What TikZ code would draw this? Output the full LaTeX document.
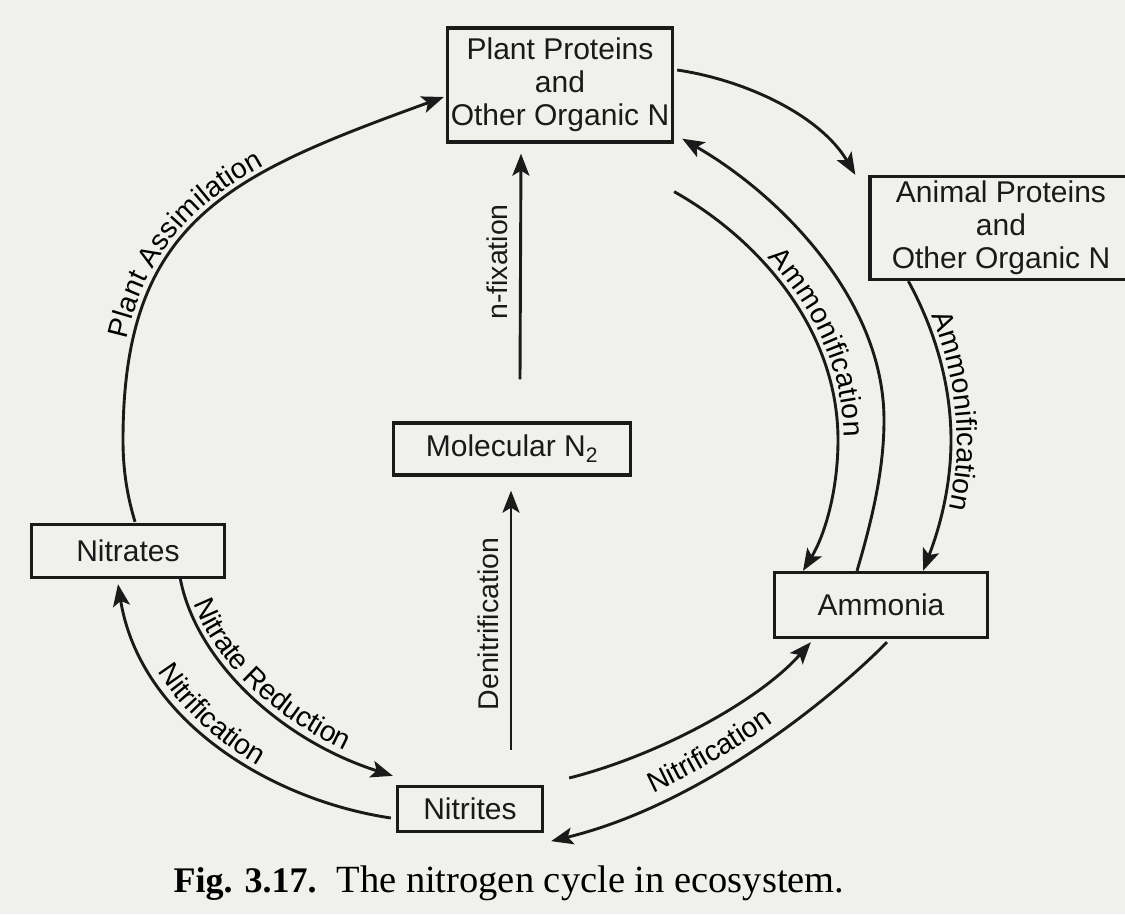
\documentclass[tikz,border=0pt]{standalone}
\usepackage{fontspec}
\setmainfont{Liberation Serif}
\setsansfont{Liberation Sans}
\usetikzlibrary{arrows.meta,decorations.text,calc}
\definecolor{ink}{HTML}{1A1A1A}
\definecolor{paper}{HTML}{F0F0ED}
\begin{document}
\begin{tikzpicture}[x=1pt,y=-1pt,
  box/.style={draw=ink,line width=3.3pt,inner sep=0pt,text=ink,align=center,
    font=\sffamily\fontsize{30}{33}\selectfont},
  flow/.style={draw=ink,line width=2.9pt,
    -{Stealth[length=22pt,width=17pt,inset=5pt]}},
  lbl/.style={font=\sffamily\fontsize{28.5}{30}\selectfont,text=ink},
  along/.style args={#1 at #2 up #3}{decorate,decoration={text along path,
    text={|\sffamily\fontsize{28.5}{30}\selectfont|#1},
    text align={left indent=#2pt},raise=#3pt}}
]
% paper
\fill[paper] (0,0) rectangle (1125,914);
\useasboundingbox (0,0) rectangle (1125,914);

% pools of nitrogen
\node[box,minimum width=225pt,minimum height=114pt] (plant) at (560,85)
  {Plant Proteins\\and\\Other Organic N};
\node[box,minimum width=262pt,minimum height=103pt] (animal) at (1001,228)
  {Animal Proteins\\and\\Other Organic N};
\node[box,minimum width=237pt,minimum height=52pt] (mol) at (512,449)
  {Molecular N\textsubscript{2}};
\node[box,minimum width=193pt,minimum height=53pt] (nitrates) at (128,551)
  {Nitrates};
\node[box,minimum width=213pt,minimum height=65pt] (ammonia) at (881,605)
  {Ammonia};
\node[box,minimum width=145pt,minimum height=45pt] (nitrites) at (470,809)
  {Nitrites};

% free ends and turning points of the connectors
\coordinate (paL) at (123,440);
\coordinate (amO) at (884,420);
\coordinate (amI) at (838,440);
\coordinate (amA) at (951,440);
\coordinate (inI) at ($(plant.south east)+(0,48)$);
\coordinate (fixS) at ($(mol.north)+(8,-42)$);
\coordinate (denS) at ($(nitrites.north)+(41,-35)$);
\coordinate (nitS) at ($(nitrites.east)+(25,-31)$);

% Plant assimilation
\draw[flow] ($(nitrates.north)+(7,-1)$) .. controls (127,495) and (123,470) .. (paL)
  .. controls (123,220) and (229,175) .. ($(plant.west)+(-2,12)$);
\path[along={Plant Assimilation at 100 up 6}] (paL)
  .. controls (123,220) and (229,175) .. ($(plant.west)+(-2,12)$);

% plants eaten by animals
\draw[flow] ($(plant.east)+(3,-15)$) .. controls (745,80) and (820,115)
  .. ($(animal.north west)+(-13,0)$);

% ammonification, outer return arrow
\draw[flow] ($(ammonia.north)+(-24,0)$) .. controls (872,520) and (884,470) .. (amO)
  .. controls (884,300) and (780,195) .. ($(plant.south east)+(8,-5)$);

% ammonification, plants to ammonia
\draw[flow] (inI) .. controls (760,240) and (838,330) .. (amI)
  .. controls (838,490) and (825,535) .. ($(ammonia.north)+(-78,0)$);
\path[along={Ammonification at 114 up 6}] (inI) .. controls (760,240) and (838,330) .. (amI)
  .. controls (838,490) and (825,535) .. ($(ammonia.north)+(-78,0)$);

% ammonification, animals to ammonia
\draw[flow] ($(animal.south west)+(40,0)$) .. controls (935,330) and (951,385) .. (amA)
  .. controls (951,495) and (935,540) .. ($(ammonia.north)+(42,0)$);
\path[along={Ammonification at 40 up 6}] ($(animal.south west)+(40,0)$)
  .. controls (935,330) and (951,385) .. (amA)
  .. controls (951,495) and (935,540) .. ($(ammonia.north)+(42,0)$);

% fixation and denitrification
\draw[flow] (fixS) -- ($(plant.south)+(-39,10)$);
\node[lbl,rotate=90] (fixlbl) at (497,262) {n-fixation};
\draw[flow] (denS) -- ($(mol.south)+(-1,14)$);
\node[lbl,rotate=90] (denlbl) at (488,624) {Denitrification};

% nitrate reduction
\draw[flow] ($(nitrates.south)+(52,-2)$) .. controls (195,660) and (280,740)
  .. ($(nitrites.north west)+(-3,-9)$);
\path[along={Nitrate Reduction at 30 up 6}] ($(nitrates.south)+(52,-2)$)
  .. controls (195,660) and (280,740) .. ($(nitrites.north west)+(-3,-9)$);

% nitrification, nitrites back to nitrates
\draw[flow] ($(nitrites.west)+(-5,9)$) .. controls (270,800) and (140,720)
  .. ($(nitrates.south)+(-10,5)$);
\path[along={Nitrification at 98 up 6}] ($(nitrates.south)+(-10,5)$)
  .. controls (140,720) and (270,800) .. ($(nitrites.west)+(-5,9)$);

% nitrification between nitrites and ammonia
\draw[flow] (nitS) .. controls (660,755) and (760,700)
  .. ($(ammonia.south west)+(38,3)$);
\draw[flow] ($(ammonia.south)+(6,3)$) .. controls (830,700) and (700,805)
  .. ($(nitrites.south east)+(7,8)$);
\path[along={Nitrification at 114 up 11}] ($(nitrites.south east)+(7,8)$)
  .. controls (700,805) and (830,700) .. ($(ammonia.south)+(6,3)$);

% caption
\node[anchor=west,text=black,font=\rmfamily\fontsize{36}{40}\selectfont] (cap) at (170,883)
  {\textbf{Fig. 3.17.}\hspace{20pt}{\fontsize{38.5}{40}\selectfont The nitrogen cycle in ecosystem.}};
\end{tikzpicture}
\end{document}
